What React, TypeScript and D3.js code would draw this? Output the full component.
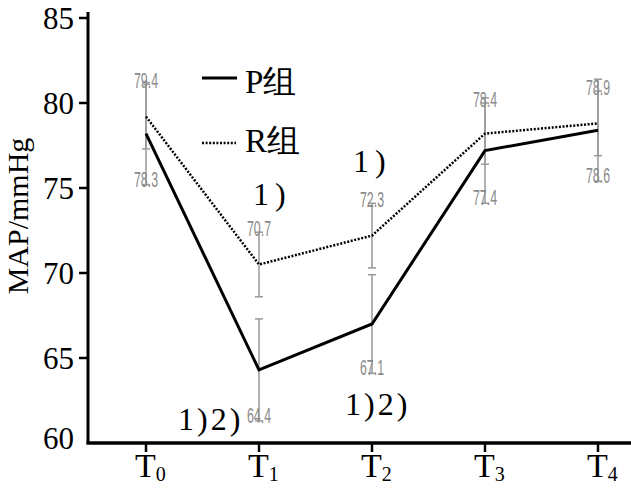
import React from 'react'
import * as d3 from 'd3'

const times = ['T0', 'T1', 'T2', 'T3', 'T4']
const pMeans = [78.2, 64.3, 67.0, 77.2, 78.4]
const pSd = [3.0, 3.0, 2.9, 3.1, 3.0]
const pLabels = ['78.3', '64.4', '67.1', '77.4', '78.6']
const rMeans = [79.2, 70.5, 72.2, 78.2, 78.8]
const rSd = [1.9, 1.9, 1.9, 1.8, 1.9]
const rLabels = ['79.4', '70.7', '72.3', '78.4', '78.9']
const yTicks = [60, 65, 70, 75, 80, 85]

// significance marks: [time, group, text]
const marks: [string, 'P' | 'R', string][] = [
  ['T1', 'R', '1)'],
  ['T2', 'R', '1)'],
  ['T1', 'P', '1)2)'],
  ['T2', 'P', '1)2)'],
]

const W = 631
const H = 488
const serif = '"Liberation Serif", "Times New Roman", serif'
const narrow = '"Liberation Sans Narrow", "Liberation Sans", Arial, sans-serif'

const App: React.FC = () => {
  const x = d3.scalePoint<string>().domain(times).range([146, 598])
  const y = d3.scaleLinear().domain([60, 85]).range([443, 18])
  const line = d3.line<number>().x((_, i) => x(times[i]) as number).y(d => y(d))

  const bar = (m: number, s: number, i: number, key: string) => {
    const cx = x(times[i]) as number
    return (
      <g key={key} stroke="#999" strokeWidth={1.5}>
        <line x1={cx} x2={cx} y1={y(m + s)} y2={y(m - s)} />
        <line x1={cx - 4} x2={cx + 4} y1={y(m + s)} y2={y(m + s)} />
        <line x1={cx - 4} x2={cx + 4} y1={y(m - s)} y2={y(m - s)} />
      </g>
    )
  }

  return (
    <svg width={W} height={H} style={{ position: 'absolute', left: 0, top: 0, background: '#fff' }}>
      {/* error bars */}
      {pMeans.map((m, i) => bar(m, pSd[i], i, 'p' + i))}
      {rMeans.map((m, i) => bar(m, rSd[i], i, 'r' + i))}

      {/* value labels */}
      {rLabels.map((t, i) => (
        <text key={'rl' + i} x={x(times[i])} y={y(rMeans[i] + rSd[i]) + 4} textAnchor="middle"
          fontFamily={narrow} fontSize={22} fill="#8a8a8a" textLength={24} lengthAdjust="spacingAndGlyphs">{t}</text>
      ))}
      {pLabels.map((t, i) => (
        <text key={'pl' + i} x={x(times[i])} y={y(pMeans[i] - pSd[i]) + 2} textAnchor="middle"
          fontFamily={narrow} fontSize={22} fill="#8a8a8a" textLength={24} lengthAdjust="spacingAndGlyphs">{t}</text>
      ))}

      {/* lines */}
      <path d={line(rMeans) || ''} fill="none" stroke="#000" strokeWidth={2.5} strokeDasharray="2 1.6" />
      <path d={line(pMeans) || ''} fill="none" stroke="#000" strokeWidth={3} />

      {/* axes */}
      <line x1={88} x2={88} y1={12} y2={444} stroke="#000" strokeWidth={3} />
      <line x1={86.5} x2={W} y1={443} y2={443} stroke="#000" strokeWidth={3.5} />
      {yTicks.map(t => (
        <g key={'yt' + t}>
          {t > 60 && <line x1={79} x2={88} y1={y(t)} y2={y(t)} stroke="#000" strokeWidth={2.5} />}
          <text x={74} y={y(t) + (t > 60 ? 11 : 6)} textAnchor="end" fontFamily={serif} fontSize={31} fill="#000">{t}</text>
        </g>
      ))}
      {times.map(t => (
        <g key={'xt' + t}>
          <line x1={x(t)} x2={x(t)} y1={443} y2={452} stroke="#000" strokeWidth={2.5} />
          <text x={(x(t) as number) - 11} y={477} fontFamily={serif} fontSize={34} fill="#000">
            T<tspan fontSize={20} dy={4}>{t.slice(1)}</tspan>
          </text>
        </g>
      ))}
      <text transform="translate(28,216) rotate(-90)" textAnchor="middle" fontFamily={serif} fontSize={30} fill="#000">MAP/mmHg</text>

      {/* legend */}
      <line x1={202} x2={237} y1={78} y2={78} stroke="#000" strokeWidth={3} />
      <text x={245} y={93} fontFamily={serif} fontSize={33} fill="#000">P组</text>
      <line x1={202} x2={236} y1={143} y2={143} stroke="#000" strokeWidth={2.5} strokeDasharray="2 1.6" />
      <text x={245} y={152} fontFamily={serif} fontSize={33} fill="#000">R组</text>

      {/* significance marks */}
      {marks.map(([t, g, s], k) => {
        const i = times.indexOf(t)
        const cx = x(t) as number
        const isR = g === 'R'
        const px = isR ? cx - (i === 1 ? 6 : 19) : cx - (i === 1 ? 81 : 27)
        const py = isR ? y(rMeans[i] + rSd[i]) - (i === 1 ? 27 : 31) : (i === 1 ? 430 : 415)
        return (
          <text key={'m' + k} x={px} y={py} fontFamily={serif} fontSize={32} letterSpacing={isR ? 6 : 3} fill="#000">{s}</text>
        )
      })}
    </svg>
  )
}

export default App
